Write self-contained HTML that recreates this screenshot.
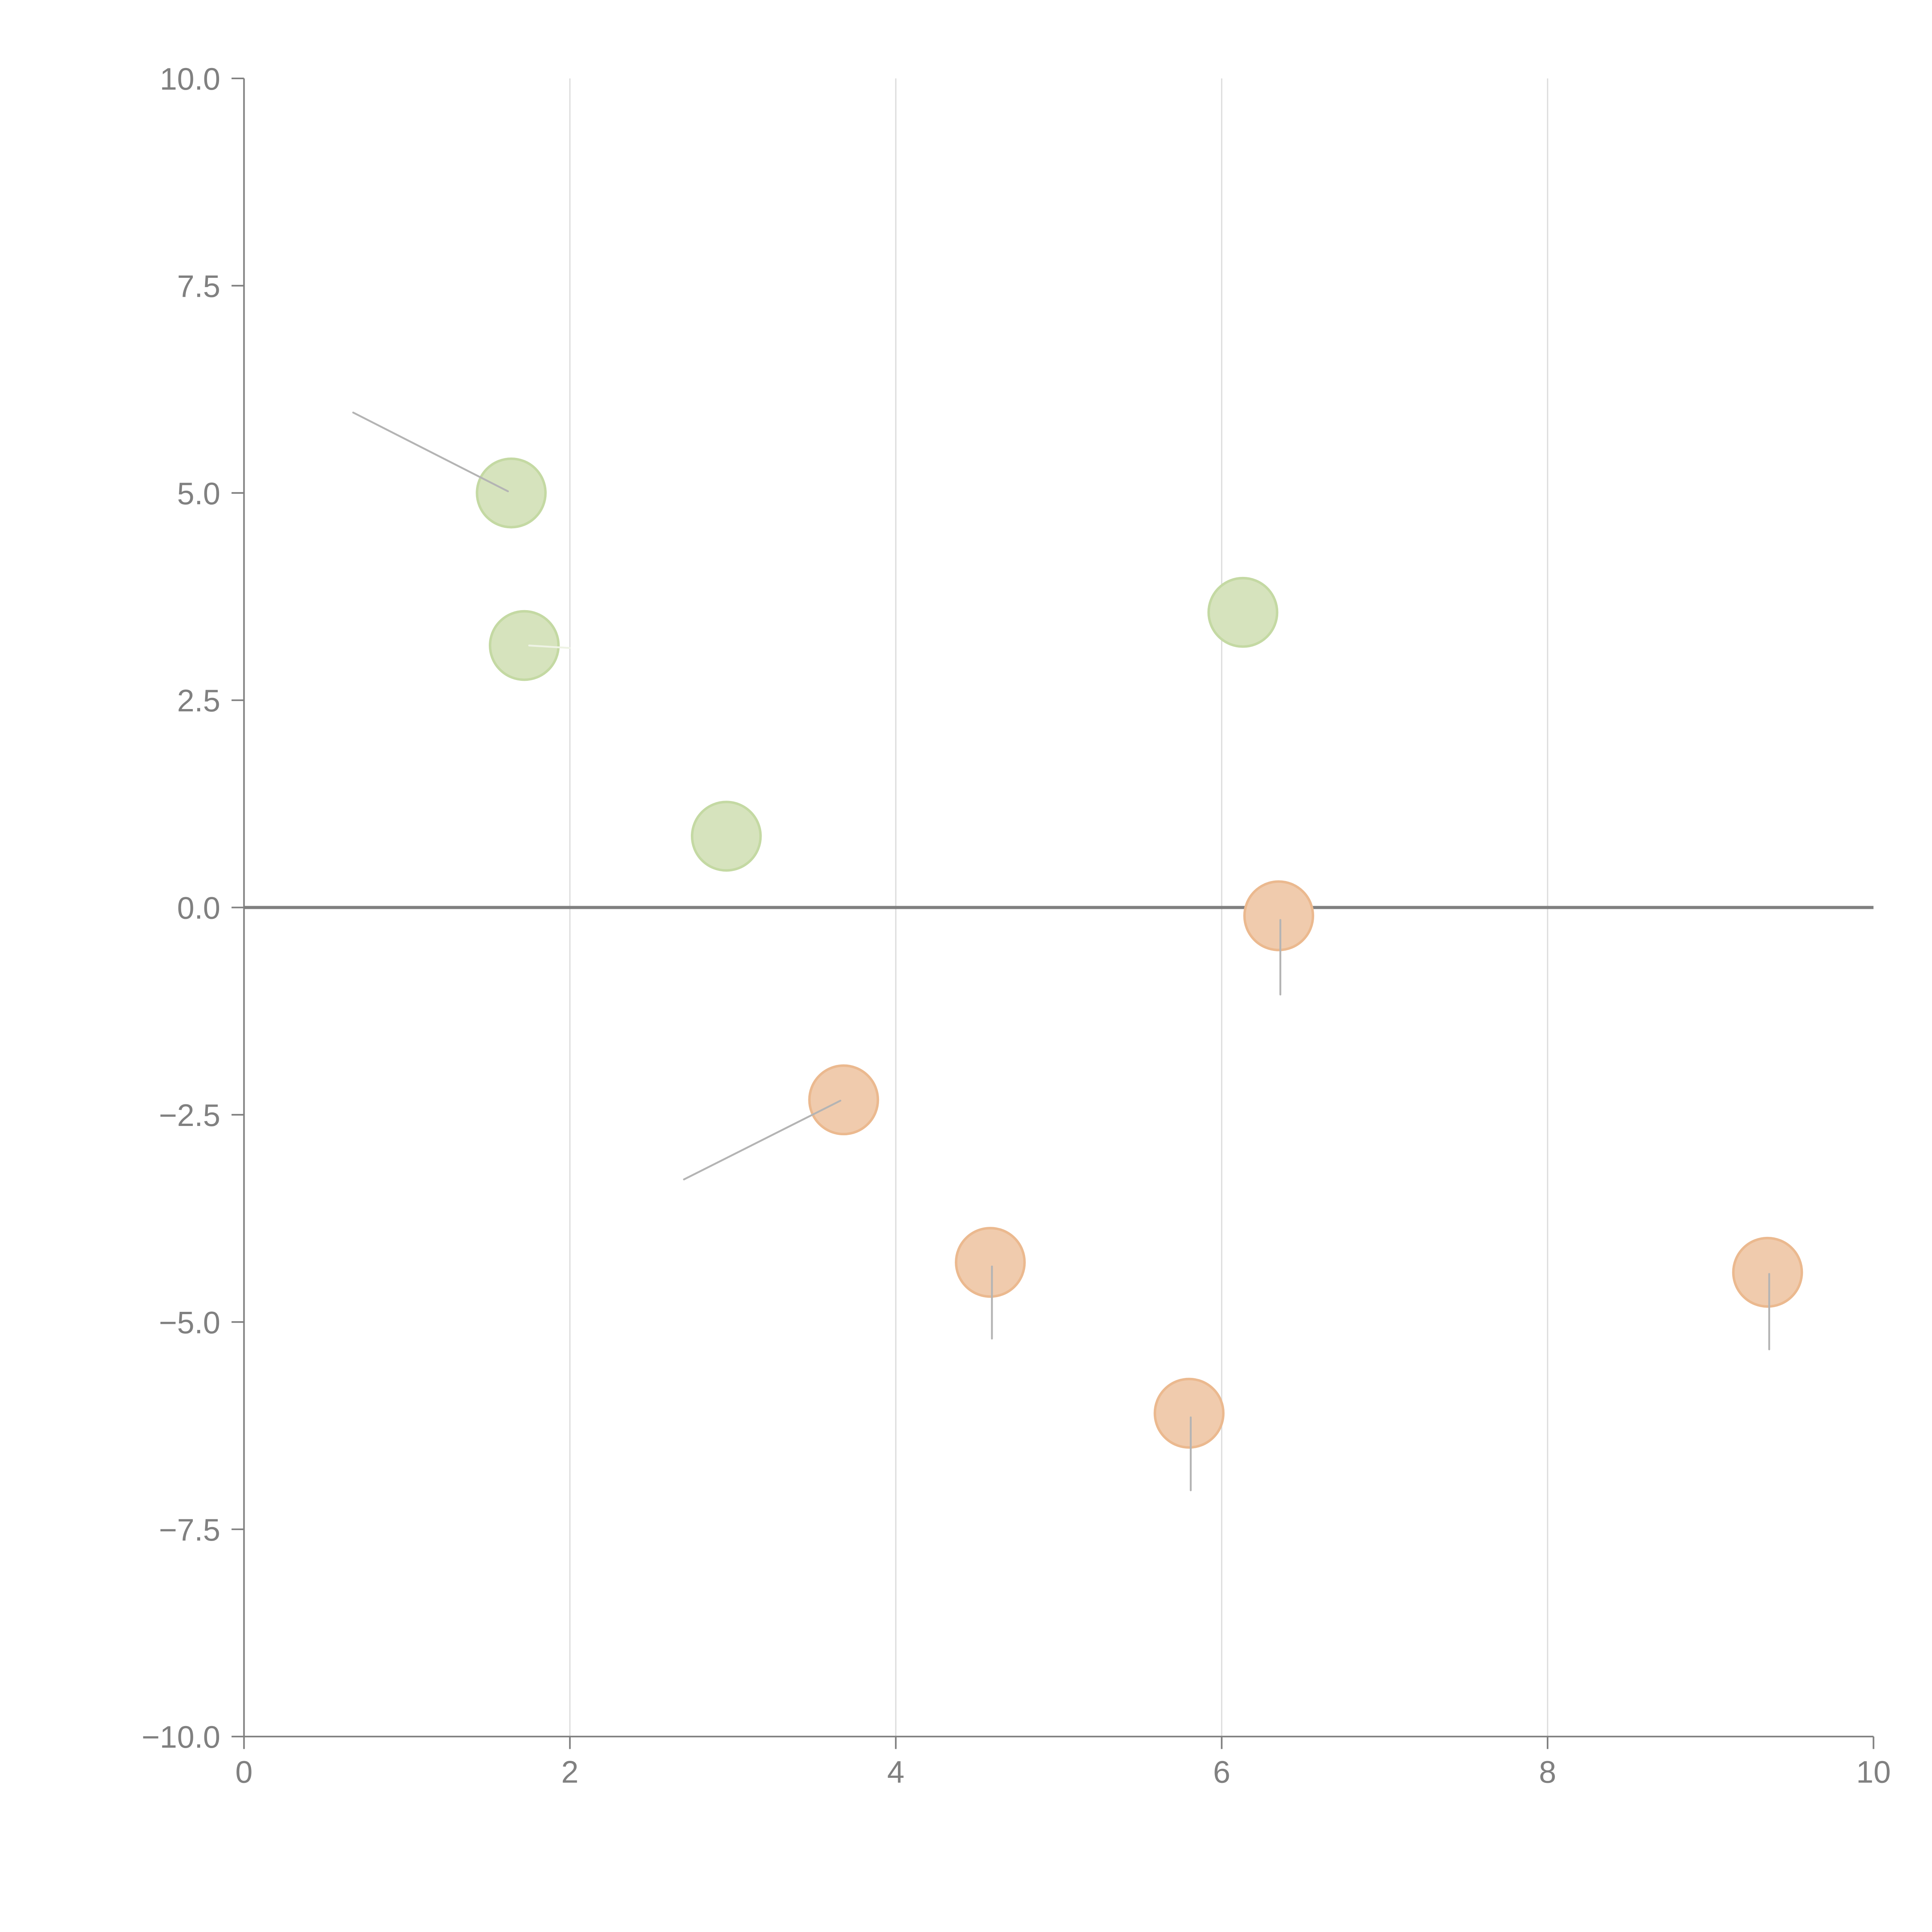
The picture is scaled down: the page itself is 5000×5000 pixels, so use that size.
<!DOCTYPE html>
<html><head><meta charset="utf-8"><style>
html,body{margin:0;padding:0;background:#fff;}
svg{display:block;}
text{font-family:"Liberation Sans",Arial,sans-serif;fill:#808080;}
</style></head><body>
<svg id="chart" width="5000" height="5000" viewBox="0 0 1552 1552" xmlns="http://www.w3.org/2000/svg">
<g id="grid"></g>
<g id="axes"></g>
<g id="leaders"></g>
<g id="points"></g>
</svg>
<script>
const xTicks = [0, 2, 4, 6, 8, 10];
const yTicks = [10, 7.5, 5, 2.5, 0, -2.5, -5, -7.5, -10];
const yTickLabels = ["10.0", "7.5", "5.0", "2.5", "0.0", "\u22122.5", "\u22125.0", "\u22127.5", "\u221210.0"];
const greenX = [1.64, 1.72, 2.96, 6.13];
const greenY = [5.0, 3.16, 0.86, 3.56];
const orangeX = [6.35, 3.68, 4.58, 5.80, 9.35];
const orangeY = [-0.1, -2.32, -4.28, -6.10, -4.40];
const leadFromX = [1.62, 1.75, 3.66, 6.36, 4.59, 5.81, 9.36];
const leadFromY = [5.02, 3.16, -2.33, -0.15, -4.33, -6.15, -4.42];
const leadToX = [0.67, 2.0, 2.70, 6.36, 4.59, 5.81, 9.36];
const leadToY = [5.97, 3.13, -3.28, -1.05, -5.20, -7.03, -5.33];
const leadWhite = [false, true, false, false, false, false, false];

const NS = "http://www.w3.org/2000/svg";
const X0 = 196, X1 = 1505, Y0 = 1395, Y1 = 63;
function sx(v){ return X0 + (v - 0) / 10 * (X1 - X0); }
function sy(v){ return Y0 - (v + 10) / 20 * (Y0 - Y1); }
function mk(tag, attrs, parent){
  const e = document.createElementNS(NS, tag);
  for (const k in attrs) e.setAttribute(k, attrs[k]);
  document.getElementById(parent).appendChild(e);
  return e;
}
xTicks.forEach((t, i) => {
  if (t === 0 || t === 10) return;
  const l = mk("line", {x1: sx(t), x2: sx(t), y1: Y1, y2: Y0, stroke: "#dcdcdc", "stroke-width": 1}, "grid");
  
  
});
let a = mk("line", {x1: X0, x2: X0, y1: Y1, y2: Y0, stroke: "#808080", "stroke-width": 1.3}, "axes");


a = mk("line", {x1: X0, x2: X1, y1: Y0, y2: Y0, stroke: "#808080", "stroke-width": 1.3}, "axes");


a = mk("line", {x1: X0, x2: X1, y1: sy(0), y2: sy(0), stroke: "#808080", "stroke-width": 2.5}, "axes");


yTicks.forEach((t, i) => {
  const tk = mk("line", {x1: X0 - 10, x2: X0, y1: sy(t), y2: sy(t), stroke: "#808080", "stroke-width": 1.3}, "axes");
  
  
  const tx = mk("text", {x: X0 - 19, y: sy(t) + 9, "text-anchor": "end", "font-size": 25}, "axes");
  tx.textContent = yTickLabels[i];
  
  
});
xTicks.forEach((t) => {
  const tk = mk("line", {x1: sx(t), x2: sx(t), y1: Y0, y2: Y0 + 10, stroke: "#808080", "stroke-width": 1.3}, "axes");
  
  
  const tx = mk("text", {x: sx(t), y: Y0 + 37, "text-anchor": "middle", "font-size": 25}, "axes");
  tx.textContent = String(t);
  
  
});
greenX.forEach((v, i) => {
  const c = mk("circle", {cx: sx(v), cy: sy(greenY[i]), r: 27.5, fill: "#d6e3bd", stroke: "#c4d9a3", "stroke-width": 2}, "points");
  
  
});
orangeX.forEach((v, i) => {
  const c = mk("circle", {cx: sx(v), cy: sy(orangeY[i]), r: 27.5, fill: "#f0cbad", stroke: "#ebb98f", "stroke-width": 2}, "points");
  
  
});
leadFromX.forEach((v, i) => {
  const l = mk("line", {x1: sx(v), y1: sy(leadFromY[i]), x2: sx(leadToX[i]), y2: sy(leadToY[i]),
    stroke: leadWhite[i] ? "#eef3e4" : "#b4b4b4", "stroke-width": 1.5, "stroke-linecap": "round"}, "points");
  
  
});
</script>
</body></html>
